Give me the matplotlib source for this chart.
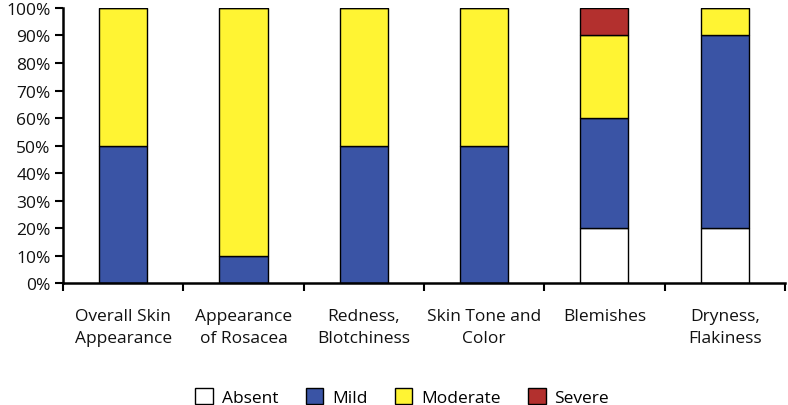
import numpy as np
import matplotlib
matplotlib.use("Agg")
import matplotlib.pyplot as plt
from matplotlib.ticker import FixedLocator, PercentFormatter

plt.rcParams['font.family'] = ['Open Sans', 'DejaVu Sans']

categories = ["Overall Skin\nAppearance", "Appearance\nof Rosacea", "Redness,\nBlotchiness",
              "Skin Tone and\nColor", "Blemishes", "Dryness,\nFlakiness"]
absent = [0, 0, 0, 0, 20, 20]
mild = [50, 10, 50, 50, 40, 70]
moderate = [50, 90, 50, 50, 30, 10]
severe = [0, 0, 0, 0, 10, 0]

series = [("Absent", absent, "#FFFFFF"),
          ("Mild", mild, "#3A54A5"),
          ("Moderate", moderate, "#FFF433"),
          ("Severe", severe, "#B3302E")]

fig = plt.figure(figsize=(7.88, 4.06), dpi=100)
ax = fig.add_axes([0.08, 0.30, 0.916, 0.678])

x = np.arange(len(categories))
bottom = np.zeros(len(categories))
for name, vals, col in series:
    ax.bar(x, vals, width=0.4, bottom=bottom, color=col, edgecolor="black",
           linewidth=1.0, label=name)
    bottom += np.array(vals)

ax.set_xlim(-0.5, len(categories) - 0.5)
ax.set_ylim(0, 100)
ax.yaxis.set_major_locator(FixedLocator(range(0, 101, 10)))
ax.yaxis.set_major_formatter(PercentFormatter(decimals=0))
ax.set_xticks(x)
ax.set_xticklabels(categories, fontsize=12.5, linespacing=1.45, color="#111111")
ax.xaxis.set_minor_locator(FixedLocator(np.arange(-0.5, len(categories), 1)))
ax.tick_params(axis="x", which="major", length=0, pad=18)
ax.tick_params(axis="x", which="minor", length=6, width=1.5, direction="out")
ax.tick_params(axis="y", length=6, width=1.5, direction="out", labelsize=12.5, pad=3,
               labelcolor="#111111")

for s in ["top", "right"]:
    ax.spines[s].set_visible(False)
for s in ["left", "bottom"]:
    ax.spines[s].set_linewidth(1.8)

ax.legend(loc="upper center", bbox_to_anchor=(0.47, -0.325), ncol=4, frameon=False,
          fontsize=12.5, handlelength=1.0, handleheight=1.0, columnspacing=1.6,
          handletextpad=0.5)

fig.savefig("out.png", dpi=100)
